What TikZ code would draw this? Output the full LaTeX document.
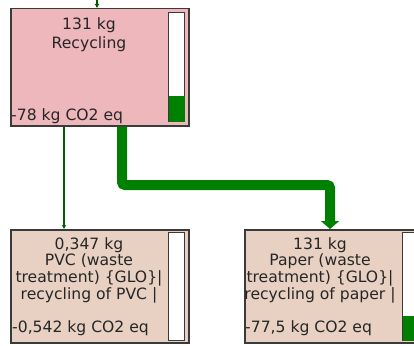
\documentclass[tikz,border=0pt]{standalone}
\usepackage{fontspec}
\setmainfont{DejaVu Sans}
\usetikzlibrary{arrows.meta}
\definecolor{recpink}{HTML}{EDB7BC}
\definecolor{wastebeige}{HTML}{E8D0C2}
\definecolor{flowgreen}{HTML}{008000}
\definecolor{boxline}{HTML}{3A3A3A}
\begin{document}
\begin{tikzpicture}[
    x=1pt, y=-1pt,
    procbox/.style={rectangle, draw=boxline, line width=1.5pt, fill=#1, minimum width=178pt, minimum height=113pt, anchor=north west, inner sep=0pt},
    bar/.style={rectangle, draw=boxline, line width=1.2pt, fill=white, minimum width=16pt, minimum height=108pt, anchor=north west, inner sep=0pt},
    title/.style={font=\fontsize{15.6}{16.8}\selectfont, text=black!85, align=center, anchor=north, inner sep=0pt},
    score/.style={font=\fontsize{15.6}{16.8}\selectfont, text=black!85, anchor=base west, inner sep=0pt},
    thinflow/.style={draw=green!35!black, line width=1.2pt, -{Triangle[width=4pt,length=4pt]}},
    thickflow/.style={draw=flowgreen, line width=10pt, rounded corners=3pt, -{Triangle[width=18pt,length=8pt]}}
]
    \useasboundingbox (0,0) rectangle (414,345);
    \clip (0,0) rectangle (414,345);

    % Processus
    \node[procbox=recpink, minimum height=117pt] (rec) at (10,8) {};
    \node[procbox=wastebeige] (pvc) at (10,229) {};
    \node[procbox=wastebeige] (paper) at (244,229) {};

    % Flux
    \coordinate (src) at (97,0);
    \coordinate (thin-x) at (64,0);
    \coordinate (thick-x) at (122,0);
    \coordinate (bend) at (330,185);
    \draw[thinflow] (src) -- (rec.north -| src);
    \draw[thinflow] (rec.south -| thin-x) -- (pvc.north -| thin-x);
    \draw[thickflow] (rec.south -| thick-x) |- (bend) -- (paper.north -| bend);

    % Barres
    \node[bar, minimum height=109pt] (rec-bar) at (168,12) {};
    \fill[flowgreen] ([shift={(0.6,-0.6)}]rec-bar.south west) rectangle ([shift={(-0.6,-26)}]rec-bar.south east);
    \node[bar] (pvc-bar) at (168,232) {};
    \node[bar] (paper-bar) at (402,232) {};
    \fill[flowgreen] ([shift={(0.6,-0.6)}]paper-bar.south west) rectangle ([shift={(-0.6,-25)}]paper-bar.south east);

    % Textes
    \node[title] (rec-name) at (89,17) {131 kg\\[3pt]Recycling};
    \node[score] (rec-co2) at (11,120) {-78 kg CO2 eq};
    \node[title] (pvc-name) at (89,237) {0,347 kg\\PVC (waste\\treatment) \{GLO\}|\\recycling of PVC |};
    \node[score] (pvc-co2) at (12,332) {-0,542 kg CO2 eq};
    \node[title] (paper-name) at (320,237) {131 kg\\Paper (waste\\treatment) \{GLO\}|\\recycling of paper |};
    \node[score] (paper-co2) at (245,332) {-77,5 kg CO2 eq};
\end{tikzpicture}
\end{document}
